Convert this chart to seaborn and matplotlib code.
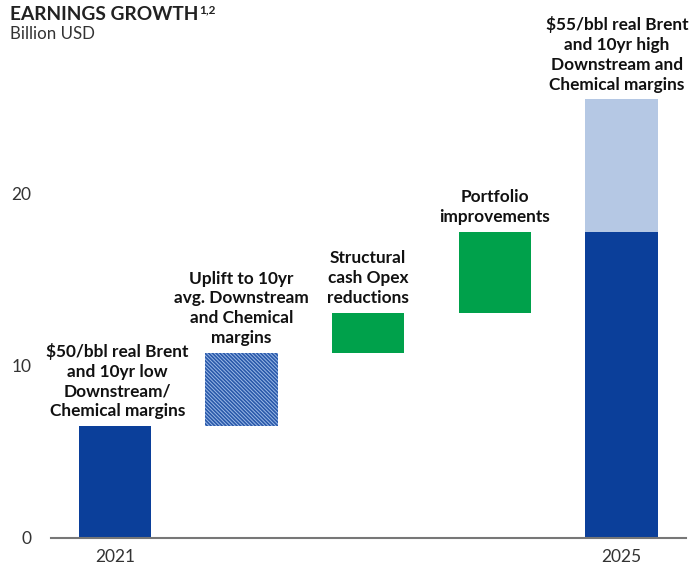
import matplotlib
matplotlib.use("Agg")
import matplotlib.pyplot as plt
import seaborn as sns
import pandas as pd

# dados (bilhões USD)
steps = ["2021", "Uplift", "Opex", "Portfolio", "2025"]
base_2021 = 6.5
increments = [4.25, 2.35, 4.7]
upside_2025 = 7.7
labels = [
    "$50/bbl real Brent\nand 10yr low\nDownstream/\nChemical margins",
    "Uplift to 10yr\navg. Downstream\nand Chemical\nmargins",
    "Structural\ncash Opex\nreductions",
    "Portfolio\nimprovements",
    "$55/bbl real Brent\nand 10yr high\nDownstream and\nChemical margins",
]
tick_labels = ["2021", "2025"]

# montar tabela do waterfall
bottoms = [0.0]
heights = [base_2021]
run = base_2021
for inc in increments:
    bottoms.append(run)
    heights.append(inc)
    run += inc
bottoms.append(0.0)
heights.append(run)
df = pd.DataFrame({"step": steps, "bottom": bottoms, "height": heights})

dark_blue = "#0b3f9a"
light_blue = "#b5c8e4"
green = "#00a14b"
hatch_face = "#9dbbe8"
hatch_line = "#2a59aa"

sns.set_theme(style="white")
plt.rcParams["font.family"] = ["Lato", "DejaVu Sans"]
plt.rcParams["hatch.linewidth"] = 1.2

fig = plt.figure(figsize=(6.91, 5.75), dpi=100)
ax = fig.add_axes([51 / 691, 37 / 575, 635 / 691, 538 / 575])

w = 0.57
colors = [dark_blue, hatch_face, green, green, dark_blue]
for i, row in df.iterrows():
    if i == 1:
        ax.bar(i, row["height"], bottom=row["bottom"], width=w, color=hatch_face,
               edgecolor=hatch_line, hatch="\\" * 9, linewidth=0)
    else:
        ax.bar(i, row["height"], bottom=row["bottom"], width=w, color=colors[i], linewidth=0)
# parte clara de 2025
ax.bar(4, upside_2025, bottom=run, width=w, color=light_blue, linewidth=0)

# rótulos acima das barras
tops = [b + h for b, h in zip(bottoms, heights)]
tops[4] = run + upside_2025
label_dx = [0.02, 0, 0, 0, -0.035]
for i, lab in enumerate(labels):
    ax.text(i + label_dx[i], tops[i] + 0.4, lab, ha="center", va="bottom", fontsize=12.4,
            fontweight="bold", color="#111111", linespacing=1.3)

ax.set_xlim(-0.505, 4.51)
ax.set_ylim(0, 538 / 17.2)
ax.set_xticks([0, 4])
ax.set_xticklabels(tick_labels, fontsize=12.5, color="#333333")
ax.set_yticks([0, 10, 20])
ax.set_yticklabels(["0", "10", "20"], fontsize=12.5, color="#333333")
ax.tick_params(axis="both", length=0, pad=8)
ax.tick_params(axis="y", pad=14)
for s in ["top", "right", "left"]:
    ax.spines[s].set_visible(False)
ax.spines["bottom"].set_color("#777777")
ax.spines["bottom"].set_linewidth(1.5)
ax.patch.set_alpha(0)

fig.text(10 / 691, 1 - 15 / 575, "EARNINGS GROWTH", fontsize=13.8,
         fontweight="bold", color="#222222", va="center", ha="left")
fig.text(199 / 691, 1 - 10 / 575, "1,2", fontsize=8.5,
         fontweight="bold", color="#222222", va="center", ha="left")
fig.text(10 / 691, 1 - 34 / 575, "Billion USD", fontsize=12.2, color="#333333",
         va="center", ha="left")

fig.savefig("out.png", dpi=100)
